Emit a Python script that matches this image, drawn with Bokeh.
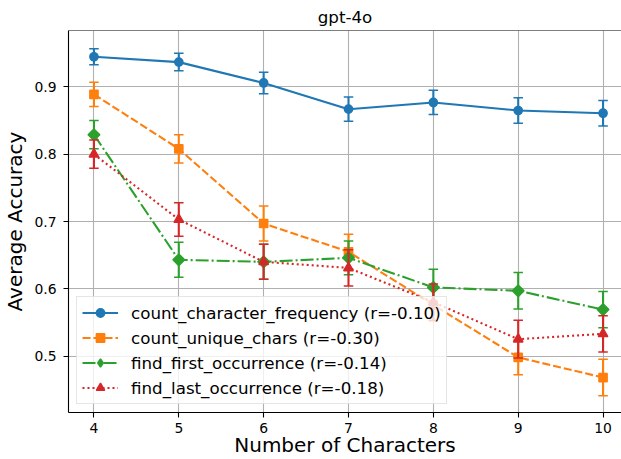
from bokeh.plotting import figure
from bokeh.models import Range1d, FixedTicker, Legend, LegendItem, Span
from bokeh.embed import file_html
from bokeh.resources import INLINE
import math

# ---- data ----
chars = [4, 5, 6, 7, 8, 9, 10]

ccf = [0.945, 0.937, 0.906, 0.867, 0.877, 0.865, 0.861]
ccf_err = [0.012, 0.013, 0.016, 0.018, 0.018, 0.019, 0.019]

cuc = [0.889, 0.808, 0.697, 0.655, 0.576, 0.498, 0.468]
cuc_err = [0.018, 0.021, 0.026, 0.026, 0.024, 0.026, 0.027]

ffo = [0.829, 0.643, 0.640, 0.646, 0.602, 0.597, 0.569]
ffo_err = [0.021, 0.026, 0.026, 0.025, 0.027, 0.027, 0.027]

flo = [0.800, 0.703, 0.640, 0.631, 0.580, 0.525, 0.533]
flo_err = [0.021, 0.025, 0.026, 0.027, 0.027, 0.028, 0.027]

labels = [
    "count_character_frequency (r=-0.10)",
    "count_unique_chars (r=-0.30)",
    "find_first_occurrence (r=-0.14)",
    "find_last_occurrence (r=-0.18)",
]
y_ticks = [0.5, 0.6, 0.7, 0.8, 0.9]
title = "gpt-4o"
x_title = "Number of Characters"
y_title = "Average Accuracy"

# ---- styles ----
FONT = "DejaVu Sans"
colors = ["#1f77b4", "#ff7f0e", "#2ca02c", "#d62728"]
dashes = ["solid", "8 3", "13 3 2 3", "2 3"]
markers = [("circle", 8.3, 0.0), ("square", 8.3, 0.0), ("square", 8.3, math.pi / 4), ("triangle", 9.6, 0.0)]
legend_markers = ["circle", "square", "diamond", "triangle"]

W, H = 621, 459
left, top, bottom = 68, 30, 46
# matplotlib axes spans 3.7..10.3 over 560 px; the right side is cropped at the window edge
px_per_unit = 560.0 / 6.6
x_start = 3.7
x_end = x_start + (W - left) / px_per_unit

p = figure(width=W, height=H, output_backend="svg", toolbar_location=None,
           x_range=Range1d(x_start, x_end), y_range=Range1d(0.416, 0.984),
           min_border_left=left, min_border_right=0, min_border_top=top,
           min_border_bottom=bottom)
p.background_fill_color = "white"
p.border_fill_color = "white"
p.outline_line_color = None

p.title.text = title
p.title.align = "center"
p.title.text_font = FONT
p.title.text_font_size = "16.7px"
p.title.text_font_style = "normal"
p.title.text_color = "black"
p.title.standoff = 8

p.xaxis.ticker = FixedTicker(ticks=chars)
p.yaxis.ticker = FixedTicker(ticks=y_ticks)
for ax in (p.xaxis, p.yaxis):
    ax.axis_line_color = "black"
    ax.axis_line_width = 1.1
    ax.major_tick_line_color = "black"
    ax.major_tick_line_width = 1.1
    ax.major_tick_out = 5
    ax.major_tick_in = 0
    ax.minor_tick_out = 0
    ax.minor_tick_in = 0
    ax.major_label_text_font = FONT
    ax.major_label_text_font_size = "13.9px"
    ax.major_label_text_color = "black"
    ax.axis_label_text_font = FONT
    ax.axis_label_text_font_size = "20px"
    ax.axis_label_text_font_style = "normal"
    ax.axis_label_text_color = "black"
p.xaxis.axis_label = x_title
p.yaxis.axis_label = y_title
p.xaxis.major_label_standoff = 5
p.xaxis.axis_label_standoff = -3
p.yaxis.major_label_standoff = 7
p.yaxis.axis_label_standoff = 4

p.grid.grid_line_color = "#b0b0b0"
p.grid.grid_line_width = 1.1
p.grid.grid_line_alpha = 1.0

p.add_layout(Span(location=0.984, dimension="width", line_color="black", line_width=1.1))

series = [(ccf, ccf_err), (cuc, cuc_err), (ffo, ffo_err), (flo, flo_err)]
items = []
for i, (vals, errs) in enumerate(series):
    c = colors[i]
    lo = [v - e for v, e in zip(vals, errs)]
    hi = [v + e for v, e in zip(vals, errs)]
    ln = p.line(chars, vals, line_color=c, line_width=2.1, line_dash=dashes[i])
    p.segment(x0=chars, y0=lo, x1=chars, y1=hi, line_color=c, line_width=2.1)
    p.scatter(chars, lo, marker="dash", size=9.5, line_color=c, line_width=1.5)
    p.scatter(chars, hi, marker="dash", size=9.5, line_color=c, line_width=1.5)
    m, s, ang = markers[i]
    mk = p.scatter(chars, vals, marker=m, size=s, angle=ang, fill_color=c,
                   line_color=c, line_width=1.4)
    if legend_markers[i] != m or ang != 0.0:
        # legend swatch only (legend glyphs ignore marker rotation)
        mk = p.scatter(chars, vals, marker=legend_markers[i], fill_color=c,
                       line_color=c, line_width=1.4, visible=False)
    items.append(LegendItem(label=labels[i], renderers=[ln, mk]))

legend = Legend(items=items, location="bottom_left")
legend.margin = 8
legend.padding = 5
legend.spacing = 4
legend.label_height = 21
legend.glyph_height = 21
legend.glyph_width = 36
legend.label_standoff = 13
legend.label_text_font = FONT
legend.label_text_font_size = "16.7px"
legend.label_text_color = "black"
legend.border_line_color = "#cccccc"
legend.border_line_width = 1
legend.background_fill_color = "white"
legend.background_fill_alpha = 0.8
p.add_layout(legend)

open("out.html", "w").write(file_html(p, INLINE))
